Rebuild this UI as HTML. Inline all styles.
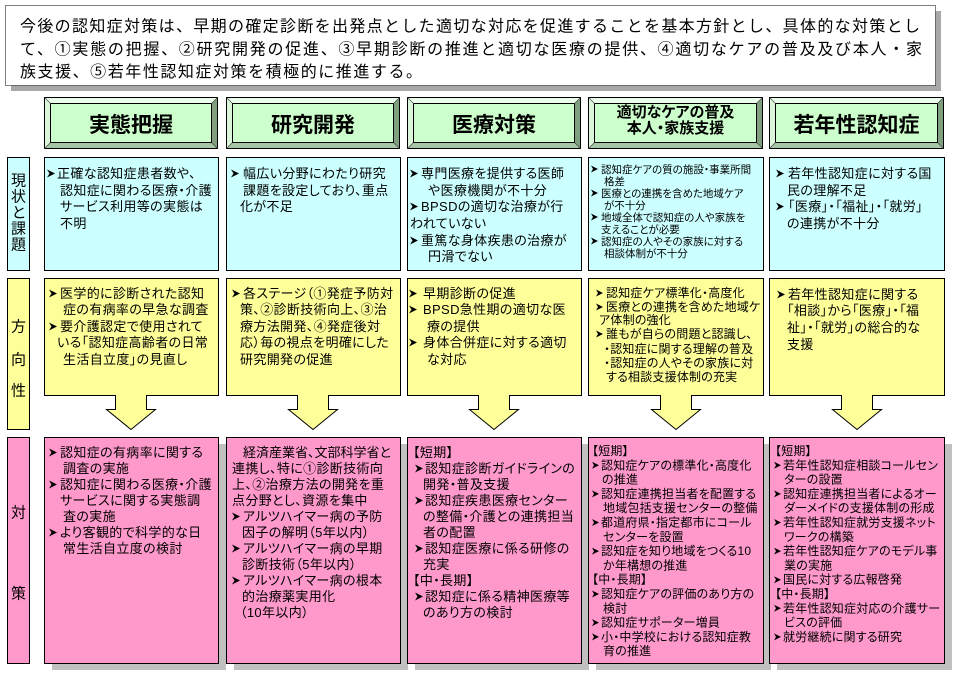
<!DOCTYPE html>
<html><head><meta charset="utf-8">
<style>
html,body{margin:0;padding:0;background:#fff;}
svg{display:block;}
text{font-family:"Liberation Sans","Noto Sans CJK JP",sans-serif;font-feature-settings:"palt";fill:#000;}
.t13{font-size:13px;letter-spacing:0.35px;}
.t12{font-size:12px;letter-spacing:0.2px;}
.t105{font-size:10.5px;}
.top{font-size:16px;font-feature-settings:normal;}
.hd{font-size:21px;font-weight:bold;}
.hd2{font-size:15px;font-weight:bold;}
.lab{font-size:15px;}
.ns{letter-spacing:0;}
</style></head><body>
<svg width="954" height="675" viewBox="0 0 954 675">
<rect width="954" height="675" fill="#fff"/>

<!-- top statement box -->
<rect x="11" y="11" width="930" height="80" fill="#a8a8a8"/>
<rect x="5.5" y="5.5" width="930" height="80" fill="#fff" stroke="#000" stroke-dasharray="1 1"/>
<text class="top" x="20" y="31.5" textLength="900" lengthAdjust="spacing">今後の認知症対策は、早期の確定診断を出発点とした適切な対応を促進することを基本方針とし、具体的な対策とし</text>
<text class="top" x="20" y="54.5" textLength="902" lengthAdjust="spacing">て、①実態の把握、②研究開発の促進、③早期診断の推進と適切な医療の提供、④適切なケアの普及及び本人・家</text>
<text class="top" x="20" y="77" textLength="402" lengthAdjust="spacing">族支援、⑤若年性認知症対策を積極的に推進する。</text>

<!-- header buttons -->
<g transform="translate(44,97)">
 <rect x="0" y="0" width="174" height="52" fill="#ccffcc"/>
 <polygon points="0,0 174,0 168,6 6,6" fill="#ecffec"/>
 <polygon points="0,0 6,6 6,46 0,52" fill="#dcf6dc"/>
 <polygon points="174,0 174,52 168,46 168,6" fill="#7f9f7f"/>
 <polygon points="0,52 174,52 168,46 6,46" fill="#a6c6a6"/>
 <rect x="6.5" y="6.5" width="161" height="39" fill="#ccffcc" stroke="#000"/>
 <rect x="0.5" y="0.5" width="173" height="51" fill="none" stroke="#000"/>
 <path d="M0.5 0.5L6.5 6.5M173.5 0.5L167.5 6.5M0.5 51.5L6.5 45.5M173.5 51.5L167.5 45.5" stroke="#444" stroke-width="0.7"/>
 <text class="hd" x="87" y="35" text-anchor="middle">実態把握</text>
</g>
<g transform="translate(226,97)">
 <rect x="0" y="0" width="174" height="52" fill="#ccffcc"/>
 <polygon points="0,0 174,0 168,6 6,6" fill="#ecffec"/>
 <polygon points="0,0 6,6 6,46 0,52" fill="#dcf6dc"/>
 <polygon points="174,0 174,52 168,46 168,6" fill="#7f9f7f"/>
 <polygon points="0,52 174,52 168,46 6,46" fill="#a6c6a6"/>
 <rect x="6.5" y="6.5" width="161" height="39" fill="#ccffcc" stroke="#000"/>
 <rect x="0.5" y="0.5" width="173" height="51" fill="none" stroke="#000"/>
 <path d="M0.5 0.5L6.5 6.5M173.5 0.5L167.5 6.5M0.5 51.5L6.5 45.5M173.5 51.5L167.5 45.5" stroke="#444" stroke-width="0.7"/>
 <text class="hd" x="87" y="35" text-anchor="middle">研究開発</text>
</g>
<g transform="translate(407,97)">
 <rect x="0" y="0" width="174" height="52" fill="#ccffcc"/>
 <polygon points="0,0 174,0 168,6 6,6" fill="#ecffec"/>
 <polygon points="0,0 6,6 6,46 0,52" fill="#dcf6dc"/>
 <polygon points="174,0 174,52 168,46 168,6" fill="#7f9f7f"/>
 <polygon points="0,52 174,52 168,46 6,46" fill="#a6c6a6"/>
 <rect x="6.5" y="6.5" width="161" height="39" fill="#ccffcc" stroke="#000"/>
 <rect x="0.5" y="0.5" width="173" height="51" fill="none" stroke="#000"/>
 <path d="M0.5 0.5L6.5 6.5M173.5 0.5L167.5 6.5M0.5 51.5L6.5 45.5M173.5 51.5L167.5 45.5" stroke="#444" stroke-width="0.7"/>
 <text class="hd" x="87" y="35" text-anchor="middle">医療対策</text>
</g>
<g transform="translate(588,97)">
 <rect x="0" y="0" width="175" height="52" fill="#ccffcc"/>
 <polygon points="0,0 175,0 169,6 6,6" fill="#ecffec"/>
 <polygon points="0,0 6,6 6,46 0,52" fill="#dcf6dc"/>
 <polygon points="175,0 175,52 169,46 169,6" fill="#7f9f7f"/>
 <polygon points="0,52 175,52 169,46 6,46" fill="#a6c6a6"/>
 <rect x="6.5" y="6.5" width="162" height="39" fill="#ccffcc" stroke="#000"/>
 <rect x="0.5" y="0.5" width="174" height="51" fill="none" stroke="#000"/>
 <path d="M0.5 0.5L6.5 6.5M174.5 0.5L168.5 6.5M0.5 51.5L6.5 45.5M174.5 51.5L168.5 45.5" stroke="#444" stroke-width="0.7"/>
 <text class="hd2" x="87.5" y="20" text-anchor="middle">適切なケアの普及</text>
 <text class="hd2" x="87.5" y="36" text-anchor="middle">本人・家族支援</text>
</g>
<g transform="translate(769,97)">
 <rect x="0" y="0" width="175" height="52" fill="#ccffcc"/>
 <polygon points="0,0 175,0 169,6 6,6" fill="#ecffec"/>
 <polygon points="0,0 6,6 6,46 0,52" fill="#dcf6dc"/>
 <polygon points="175,0 175,52 169,46 169,6" fill="#7f9f7f"/>
 <polygon points="0,52 175,52 169,46 6,46" fill="#a6c6a6"/>
 <rect x="6.5" y="6.5" width="162" height="39" fill="#ccffcc" stroke="#000"/>
 <rect x="0.5" y="0.5" width="174" height="51" fill="none" stroke="#000"/>
 <path d="M0.5 0.5L6.5 6.5M174.5 0.5L168.5 6.5M0.5 51.5L6.5 45.5M174.5 51.5L168.5 45.5" stroke="#444" stroke-width="0.7"/>
 <text class="hd" x="87.5" y="35" text-anchor="middle">若年性認知症</text>
</g>

<!-- left labels -->
<rect x="7.5" y="157.5" width="22" height="113" fill="#ccffff" stroke="#000"/>
<text class="lab" x="18.5" y="185.7" text-anchor="middle">現</text>
<text class="lab" x="18.5" y="201.7" text-anchor="middle">状</text>
<text class="lab" x="18.5" y="217.7" text-anchor="middle">と</text>
<text class="lab" x="18.5" y="233.7" text-anchor="middle">課</text>
<text class="lab" x="18.5" y="249.7" text-anchor="middle">題</text>

<rect x="7.5" y="278.5" width="22" height="151" fill="#ffff99" stroke="#000"/>
<text class="lab" x="18.5" y="331.7" text-anchor="middle">方</text>
<text class="lab" x="18.5" y="364.7" text-anchor="middle">向</text>
<text class="lab" x="18.5" y="395.7" text-anchor="middle">性</text>

<rect x="7.5" y="437.5" width="22" height="226" fill="#ff99cc" stroke="#000"/>
<text class="lab" x="18.5" y="517.7" text-anchor="middle">対</text>
<text class="lab" x="18.5" y="598.7" text-anchor="middle">策</text>

<!-- cyan row -->
<rect x="44.5" y="157.5" width="174" height="113" fill="#ccffff" stroke="#000"/>
<rect x="226.5" y="157.5" width="174" height="113" fill="#ccffff" stroke="#000"/>
<rect x="407.5" y="157.5" width="174" height="113" fill="#ccffff" stroke="#000"/>
<rect x="588.5" y="157.5" width="175" height="113" fill="#ccffff" stroke="#000"/>
<rect x="769.5" y="157.5" width="175" height="113" fill="#ccffff" stroke="#000"/>

<text class="t13" x="57" y="178">正確な認知症患者数や、</text>
<text class="t13" x="60" y="195">認知症に関わる医療・介護</text>
<text class="t13" x="60" y="211">サービス利用等の実態は</text>
<text class="t13" x="60" y="228">不明</text>

<text class="t13" x="243" y="178">幅広い分野にわたり研究</text>
<text class="t13" x="243" y="195">課題を設定しており、重点</text>
<text class="t13" x="240" y="211">化が不足</text>

<text class="t13" x="421" y="178">専門医療を提供する医師</text>
<text class="t13" x="428" y="195">や医療機関が不十分</text>
<text class="t13" x="421" y="211">BPSDの適切な治療が行</text>
<text class="t13" x="410" y="228">われていない</text>
<text class="t13" x="421" y="245">重篤な身体疾患の治療が</text>
<text class="t13" x="428" y="261">円滑でない</text>

<text class="t105" x="601" y="173">認知症ケアの質の施設・事業所間</text>
<text class="t105" x="604" y="185">格差</text>
<text class="t105" x="601" y="197">医療との連携を含めた地域ケア</text>
<text class="t105" x="604" y="209">が不十分</text>
<text class="t105" x="601" y="221">地域全体で認知症の人や家族を</text>
<text class="t105" x="601" y="233">支えることが必要</text>
<text class="t105" x="601" y="245">認知症の人やその家族に対する</text>
<text class="t105" x="604" y="257">相談体制が不十分</text>

<text class="t13" x="788" y="178">若年性認知症に対する国</text>
<text class="t13" x="787" y="195">民の理解不足</text>
<text class="t13" x="788" y="211">「医療」・「福祉」・「就労」</text>
<text class="t13" x="787" y="228">の連携が不十分</text>

<!-- yellow row with arrows -->
<g fill="#ffff99" stroke="#000" stroke-width="1">
<path d="M44.5 278.5H218.5V395.5H146.5V409.5H155.5L131 429.5L106.5 409.5H115.5V395.5H44.5Z"/>
<path d="M226.5 278.5H400.5V395.5H328.5V409.5H337.5L313 429.5L288.5 409.5H297.5V395.5H226.5Z"/>
<path d="M407.5 278.5H581.5V395.5H509.5V409.5H518.5L494 429.5L469.5 409.5H478.5V395.5H407.5Z"/>
<path d="M588.5 278.5H763.5V395.5H691.5V409.5H700.5L676 429.5L651.5 409.5H660.5V395.5H588.5Z"/>
<path d="M769.5 278.5H944.5V395.5H872.5V409.5H881.5L857 429.5L832.5 409.5H841.5V395.5H769.5Z"/>
</g>

<text class="t13" x="60" y="298">医学的に診断された認知</text>
<text class="t13" x="63" y="314">症の有病率の早急な調査</text>
<text class="t13" x="60" y="331">要介護認定で使用されて</text>
<text class="t13" x="57" y="347">いる「認知症高齢者の日常</text>
<text class="t13" x="63" y="364">生活自立度」の見直し</text>

<text class="t13" x="243" y="298">各ステージ（①発症予防対</text>
<text class="t13" x="240" y="314">策、②診断技術向上、③治</text>
<text class="t13" x="240" y="331">療方法開発、④発症後対</text>
<text class="t13" x="240" y="347">応）毎の視点を明確にした</text>
<text class="t13" x="240" y="364">研究開発の促進</text>

<text class="t13" x="423" y="298">早期診断の促進</text>
<text class="t13" x="423" y="314">BPSD急性期の適切な医</text>
<text class="t13" x="427" y="331">療の提供</text>
<text class="t13" x="423" y="347">身体合併症に対する適切</text>
<text class="t13" x="427" y="364">な対応</text>

<text class="t12" x="606" y="297">認知症ケア標準化・高度化</text>
<text class="t12" x="606" y="311">医療との連携を含めた地域ケ</text>
<text class="t12" x="599" y="324">ア体制の強化</text>
<text class="t12" x="606" y="338">誰もが自らの問題と認識し、</text>
<text class="t12" x="604" y="353">・認知症に関する理解の普及</text>
<text class="t12" x="604" y="367">・認知症の人やその家族に対</text>
<text class="t12" x="606" y="381">する相談支援体制の充実</text>

<text class="t13" x="788" y="299">若年性認知症に関する</text>
<text class="t13" x="787" y="315">「相談」から「医療」・「福</text>
<text class="t13" x="787" y="332">祉」・「就労」の総合的な</text>
<text class="t13" x="787" y="349">支援</text>

<!-- pink row -->
<g fill="#c0c0c0">
<rect x="52" y="444" width="174" height="226"/>
<rect x="234" y="444" width="174" height="226"/>
<rect x="415" y="444" width="174" height="226"/>
<rect x="596" y="444" width="175" height="226"/>
<rect x="777" y="444" width="175" height="226"/>
</g>
<g fill="#ff99cc" stroke="#000">
<rect x="44.5" y="437.5" width="174" height="226"/>
<rect x="226.5" y="437.5" width="174" height="226"/>
<rect x="407.5" y="437.5" width="174" height="226"/>
<rect x="588.5" y="437.5" width="175" height="226"/>
<rect x="769.5" y="437.5" width="175" height="226"/>
</g>

<text class="t13" x="60" y="457">認知症の有病率に関する</text>
<text class="t13" x="63" y="473">調査の実施</text>
<text class="t13" x="60" y="489">認知症に関わる医療・介護</text>
<text class="t13" x="60" y="505">サービスに関する実態調</text>
<text class="t13" x="63" y="521">査の実施</text>
<text class="t13" x="60" y="537">より客観的で科学的な日</text>
<text class="t13" x="63" y="553">常生活自立度の検討</text>

<text class="t13 ns" x="243" y="457">経済産業省、文部科学省と</text>
<text class="t13" x="232" y="473">連携し、特に①診断技術向</text>
<text class="t13" x="232" y="489">上、②治療方法の開発を重</text>
<text class="t13" x="232" y="505">点分野とし、資源を集中</text>
<text class="t13" x="243" y="521">アルツハイマー病の予防</text>
<text class="t13" x="242" y="537">因子の解明（5年以内）</text>
<text class="t13" x="243" y="553">アルツハイマー病の早期</text>
<text class="t13" x="242" y="569">診断技術（5年以内）</text>
<text class="t13" x="243" y="585">アルツハイマー病の根本</text>
<text class="t13" x="242" y="601">的治療薬実用化</text>
<text class="t13" x="240" y="617">（10年以内）</text>

<text class="t13" x="413" y="457">【短期】</text>
<text class="t13" x="425" y="473">認知症診断ガイドラインの</text>
<text class="t13" x="423" y="489">開発・普及支援</text>
<text class="t13" x="425" y="505">認知症疾患医療センター</text>
<text class="t13" x="423" y="521">の整備・介護との連携担当</text>
<text class="t13" x="423" y="537">者の配置</text>
<text class="t13" x="425" y="553">認知症医療に係る研修の</text>
<text class="t13" x="423" y="569">充実</text>
<text class="t13" x="413" y="585">【中・長期】</text>
<text class="t13" x="425" y="601">認知症に係る精神医療等</text>
<text class="t13" x="423" y="617">のあり方の検討</text>

<text class="t12" x="592" y="455">【短期】</text>
<text class="t12" x="601" y="469.3">認知症ケアの標準化・高度化</text>
<text class="t12" x="602" y="483.6">の推進</text>
<text class="t12" x="601" y="497.9">認知症連携担当者を配置する</text>
<text class="t12" x="603" y="512.2">地域包括支援センターの整備</text>
<text class="t12" x="601" y="526.5">都道府県・指定都市にコール</text>
<text class="t12" x="603" y="540.8">センターを設置</text>
<text class="t12" x="601" y="555.1">認知症を知り地域をつくる10</text>
<text class="t12" x="603" y="569.4">か年構想の推進</text>
<text class="t12" x="592" y="583.7">【中・長期】</text>
<text class="t12" x="601" y="598">認知症ケアの評価のあり方の</text>
<text class="t12" x="603" y="612.3">検討</text>
<text class="t12" x="601" y="626.6">認知症サポーター増員</text>
<text class="t12" x="601" y="640.9">小・中学校における認知症教</text>
<text class="t12" x="603" y="655.2">育の推進</text>

<text class="t12" x="775" y="455">【短期】</text>
<text class="t12" x="783" y="469.3">若年性認知症相談コールセン</text>
<text class="t12" x="784" y="483.6">ターの設置</text>
<text class="t12" x="783" y="497.9">認知症連携担当者によるオー</text>
<text class="t12" x="784" y="512.2">ダーメイドの支援体制の形成</text>
<text class="t12" x="783" y="526.5">若年性認知症就労支援ネット</text>
<text class="t12" x="784" y="540.8">ワークの構築</text>
<text class="t12" x="783" y="555.1">若年性認知症ケアのモデル事</text>
<text class="t12" x="784" y="569.4">業の実施</text>
<text class="t12" x="783" y="583.7">国民に対する広報啓発</text>
<text class="t12" x="775" y="598">【中・長期】</text>
<text class="t12" x="783" y="612.3">若年性認知症対応の介護サー</text>
<text class="t12" x="784" y="626.6">ビスの評価</text>
<text class="t12" x="783" y="640.9">就労継続に関する研究</text>

<!-- bullet arrowheads -->
<path fill="#000" d="
M47 169.5L55 173.5L47 177.5L49.5 173.5Z
M231 169.5L239 173.5L231 177.5L233.5 173.5Z
M410 169.5L418 173.5L410 177.5L412.5 173.5Z
M410 202.5L418 206.5L410 210.5L412.5 206.5Z
M410 236.5L418 240.5L410 244.5L412.5 240.5Z
M776 169.5L784 173.5L776 177.5L778.5 173.5Z
M776 202.5L784 206.5L776 210.5L778.5 206.5Z
M591 165.5L598 169L591 172.5L593 169Z
M591 189.5L598 193L591 196.5L593 193Z
M591 213.5L598 217L591 220.5L593 217Z
M591 237.5L598 241L591 244.5L593 241Z
M49 289.5L57 293.5L49 297.5L51.5 293.5Z
M49 322.5L57 326.5L49 330.5L51.5 326.5Z
M232 289.5L240 293.5L232 297.5L234.5 293.5Z
M409 289.5L417 293.5L409 297.5L411.5 293.5Z
M409 305.5L417 309.5L409 313.5L411.5 309.5Z
M409 338.5L417 342.5L409 346.5L411.5 342.5Z
M777 290.5L785 294.5L777 298.5L779.5 294.5Z
M596 289.5L603 293L596 296.5L598 293Z
M596 303.5L603 307L596 310.5L598 307Z
M596 330.5L603 334L596 337.5L598 334Z
M49 448.5L57 452.5L49 456.5L51.5 452.5Z
M49 480.5L57 484.5L49 488.5L51.5 484.5Z
M49 528.5L57 532.5L49 536.5L51.5 532.5Z
M232 512.5L240 516.5L232 520.5L234.5 516.5Z
M232 544.5L240 548.5L232 552.5L234.5 548.5Z
M232 576.5L240 580.5L232 584.5L234.5 580.5Z
M415 464.5L423 468.5L415 472.5L417.5 468.5Z
M415 496.5L423 500.5L415 504.5L417.5 500.5Z
M415 544.5L423 548.5L415 552.5L417.5 548.5Z
M415 592.5L423 596.5L415 600.5L417.5 596.5Z
M592 461.8L599 465.3L592 468.8L594 465.3Z
M592 490.4L599 493.9L592 497.4L594 493.9Z
M592 519L599 522.5L592 526L594 522.5Z
M592 547.6L599 551.1L592 554.6L594 551.1Z
M592 590.5L599 594L592 597.5L594 594Z
M592 619.1L599 622.6L592 626.1L594 622.6Z
M592 633.4L599 636.9L592 640.4L594 636.9Z
M774 461.8L781 465.3L774 468.8L776 465.3Z
M774 490.4L781 493.9L774 497.4L776 493.9Z
M774 519L781 522.5L774 526L776 522.5Z
M774 547.6L781 551.1L774 554.6L776 551.1Z
M774 576.2L781 579.7L774 583.2L776 579.7Z
M774 604.8L781 608.3L774 611.8L776 608.3Z
M774 633.4L781 636.9L774 640.4L776 636.9Z
"/>

</svg>
</body></html>
